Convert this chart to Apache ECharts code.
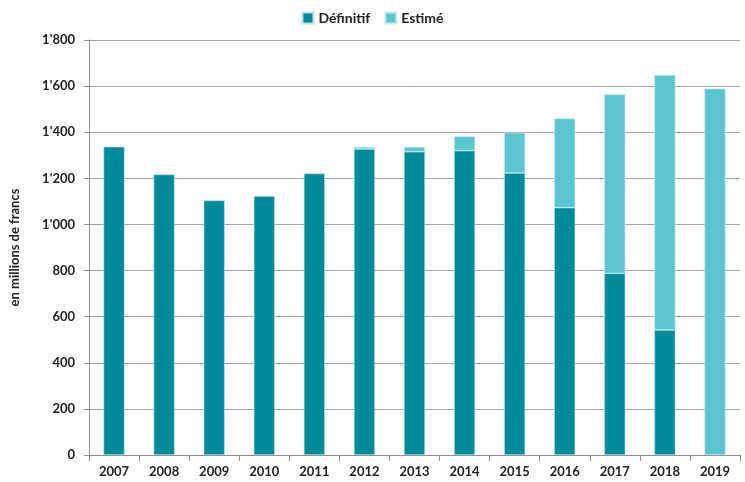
<!DOCTYPE html>
<html>
<head>
<meta charset="utf-8">
<script src="https://cdn.jsdelivr.net/npm/echarts@6/dist/echarts.min.js"></script>
<style>
    html, body { margin: 0; padding: 0; background: #fff; }
    #chart { width: 745px; height: 482px; }
</style>
</head>
<body>
<div id="chart"></div>
<script>
var years = ['2007', '2008', '2009', '2010', '2011', '2012', '2013', '2014', '2015', '2016', '2017', '2018', '2019'];
var definitif = [1337, 1217, 1104, 1123, 1221, 1327, 1315, 1320, 1223, 1073, 788, 542, 0];
var estime = [0, 0, 0, 0, 0, 9, 21, 62, 175, 387, 776, 1106, 1589];
var yTicks = [0, 200, 400, 600, 800, 1000, 1200, 1400, 1600, 1800];

var font = 'Lato, "Open Sans", sans-serif';

function fmt(v) {
    // swiss thousands separator
    var s = String(v);
    if (s.length > 3) {
        s = s.slice(0, s.length - 3) + "'" + s.slice(s.length - 3);
    }
    return s;
}

// empty segments should not draw a border line
function noZero(arr) {
    return arr.map(function (v) { return v === 0 ? '-' : v; });
}

var chart = echarts.init(document.getElementById('chart'));

var option = {
    animation: false,
    textStyle: { fontFamily: font },
    legend: {
        top: 6,
        left: 'center',
        itemWidth: 11,
        itemHeight: 11,
        itemGap: 14,
        icon: 'rect',
        textStyle: { fontFamily: font, fontWeight: 'bold', fontSize: 14, color: '#222' },
        data: ['Définitif', 'Estimé']
    },
    grid: {
        left: 89,
        right: 5,
        top: 40,
        bottom: 27
    },
    xAxis: {
        type: 'category',
        data: years,
        axisLine: { lineStyle: { color: '#8c8c8c', width: 1 } },
        axisTick: { show: true, alignWithLabel: false, length: 6, lineStyle: { color: '#8c8c8c' } },
        axisLabel: { fontFamily: font, fontWeight: 'bold', fontSize: 13, color: '#222', margin: 10 }
    },
    yAxis: {
        type: 'value',
        min: yTicks[0],
        max: yTicks[yTicks.length - 1],
        interval: 200,
        name: 'en millions de francs',
        nameLocation: 'middle',
        nameGap: 68,
        nameTextStyle: { fontFamily: font, fontWeight: 'bold', fontSize: 13, color: '#222' },
        axisLine: { show: true, lineStyle: { color: '#8c8c8c', width: 1 } },
        axisTick: { show: true, length: 5, lineStyle: { color: '#8c8c8c' } },
        axisLabel: {
            fontFamily: font, fontWeight: 'bold', fontSize: 13, color: '#222', margin: 14,
            formatter: function (v) { return fmt(v); }
        },
        splitLine: { lineStyle: { color: '#a6a6a6', width: 1 } }
    },
    series: [
        {
            name: 'Définitif',
            type: 'bar',
            stack: 'total',
            barWidth: 21,
            data: noZero(definitif),
            itemStyle: { color: '#008b9a', borderColor: '#b9e3e8', borderWidth: 0.6 }
        },
        {
            name: 'Estimé',
            type: 'bar',
            stack: 'total',
            barWidth: 21,
            data: noZero(estime),
            itemStyle: { color: '#5bc6d2', borderColor: '#c4ecf0', borderWidth: 0.6 }
        }
    ]
};

chart.setOption(option);
</script>
</body>
</html>
